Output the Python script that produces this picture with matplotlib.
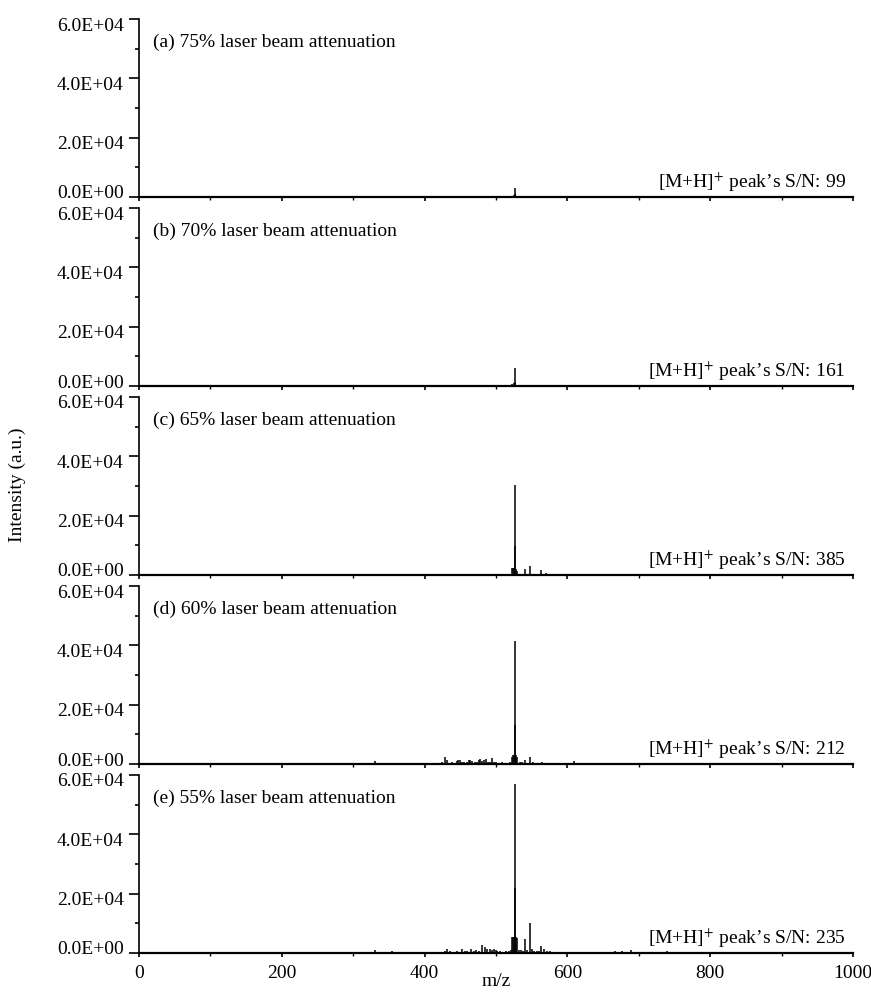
import matplotlib
matplotlib.use('Agg')
import matplotlib.pyplot as plt
from matplotlib.ticker import MultipleLocator, FuncFormatter
from matplotlib.transforms import ScaledTranslation

plt.rcParams['font.family'] = ['Liberation Serif', 'DejaVu Serif']
plt.rcParams['mathtext.fontset'] = 'stix'

# panel titles and S/N values
titles = ['(a) 75% laser beam attenuation', '(b) 70% laser beam attenuation',
          '(c) 65% laser beam attenuation', '(d) 60% laser beam attenuation',
          '(e) 55% laser beam attenuation']
snr = [99, 161, 385, 212, 235]
yticks = [0, 20000, 40000, 60000]

# peak lists (m/z, intensity)
mz_a = [332, 480, 524, 525, 526, 527, 528, 535, 548, 600, 690]
int_a = [80, 100, 500, 700, 3000, 900, 300, 250, 200, 100, 80]

mz_b = [332, 480, 494, 523, 525, 526, 527, 529, 541, 547, 564, 610]
int_b = [100, 150, 150, 800, 1000, 6000, 1500, 400, 300, 400, 200, 100]

mz_c = [330, 420, 435, 455, 465, 478, 484, 490, 510, 523, 524, 525, 526, 527,
        528, 529, 541, 547, 563, 570, 600, 690, 740, 800]
int_c = [200, 300, 200, 300, 250, 500, 400, 350, 300, 2400, 2400, 2400, 30400, 9800,
         2000, 1500, 2100, 3000, 1600, 600, 200, 300, 200, 200]

mz_d = [280, 331, 355, 418, 422, 425, 429, 432, 438, 441, 445, 447, 449, 452, 455,
        459, 462, 464, 467, 470, 473, 476, 478, 481, 483, 486, 489, 492, 494, 497,
        500, 505, 509, 512, 516, 520, 522, 524, 525, 526, 527, 528, 529, 533, 536,
        541, 547, 552, 556, 560, 564, 570, 576, 582, 590, 598, 609, 618, 630, 640,
        650, 658, 665, 672, 680, 690, 698, 705, 712, 720, 728, 735, 742, 750, 760,
        770, 780, 790, 800, 812, 825, 838, 850, 862, 875, 888, 900, 912, 925, 938,
        950, 962, 975, 988]
int_d = [300, 1100, 400, 300, 500, 600, 2400, 1200, 600, 500, 900, 1500, 1400, 800, 700,
         600, 1200, 1400, 900, 700, 600, 1500, 1600, 900, 1400, 1800, 800, 600, 2000, 700,
         600, 500, 600, 400, 500, 600, 2200, 3000, 3000, 41400, 13000, 3000, 2500, 700, 600,
         1300, 2300, 600, 500, 400, 600, 400, 300, 400, 300, 350, 1000, 400, 400, 300,
         300, 450, 350, 300, 300, 400, 350, 300, 400, 300, 350, 300, 350, 250, 300,
         300, 250, 300, 250, 300, 250, 300, 200, 250, 250, 200, 250, 200, 200, 200,
         150, 200, 150, 150]

mz_e = [190, 331, 355, 420, 424, 428, 432, 436, 440, 445, 452, 456, 460, 465, 469,
        472, 476, 480, 484, 488, 492, 495, 497, 500, 502, 506, 510, 514, 518, 521,
        523, 524, 525, 526, 527, 528, 529, 532, 535, 538, 541, 544, 547, 550, 553,
        557, 560, 563, 567, 572, 576, 582, 590, 600, 610, 620, 630, 640, 650, 660,
        666, 670, 676, 682, 689, 695, 702, 710, 718, 726, 734, 740, 748, 756, 764,
        772, 780, 790, 800, 810, 820, 830, 840, 850, 860, 870, 880, 890, 900, 912,
        925, 938, 950, 962, 975, 988]
int_e = [200, 1000, 600, 300, 500, 700, 1200, 600, 500, 800, 1500, 800, 600, 1200, 700,
         1000, 800, 2700, 2100, 1500, 1500, 900, 1400, 1100, 800, 700, 500, 600, 700, 900,
         5500, 5500, 5500, 57000, 22000, 5500, 5000, 1000, 900, 700, 4700, 900, 10100, 1200, 700,
         800, 600, 2500, 1500, 700, 600, 500, 500, 400, 500, 400, 400, 350, 400, 500,
         600, 500, 600, 400, 900, 400, 350, 400, 350, 400, 350, 700, 400, 350, 400,
         350, 300, 350, 300, 350, 300, 300, 250, 300, 250, 300, 250, 250, 250, 200,
         250, 200, 200, 200, 200, 150]

mzs = [mz_a, mz_b, mz_c, mz_d, mz_e]
ints = [int_a, int_b, int_c, int_d, int_e]


def sci(v, pos):
    return '%.1E' % v


fig = plt.figure(figsize=(8.71, 9.94), dpi=100)
left = 139 / 871
width = (853 - 139) / 871
panel_h = 178 / 994

axes = []
for i in range(5):
    bottom_px = 197 + 189 * i
    ax = fig.add_axes([left, 1 - bottom_px / 994, width, panel_h])
    axes.append(ax)

    ax.vlines(mzs[i], 0, ints[i], color='black', lw=1.1)
    ax.set_xlim(0, 1000)
    ax.set_ylim(0, 60000)

    ax.spines['top'].set_visible(False)
    ax.spines['right'].set_visible(False)
    ax.spines['left'].set_linewidth(1.2)
    ax.spines['bottom'].set_linewidth(1.6)

    ax.set_yticks(yticks)
    ax.yaxis.set_minor_locator(MultipleLocator(10000))
    ax.yaxis.set_major_formatter(FuncFormatter(sci))
    ax.tick_params(axis='y', which='major', direction='out', length=7, width=1.2, labelsize=14, pad=4)
    ax.tick_params(axis='y', which='minor', direction='out', length=3, width=1.2)

    ax.xaxis.set_major_locator(MultipleLocator(200))
    ax.xaxis.set_minor_locator(MultipleLocator(100))
    ax.tick_params(axis='x', which='major', direction='out', length=3, width=1.2, labelsize=14, pad=6)
    ax.tick_params(axis='x', which='minor', direction='out', length=2, width=1.0)
    if i < 4:
        ax.tick_params(axis='x', which='both', labelbottom=False)

    # y tick labels sit slightly inside the panel, as in the original
    for k, tick in enumerate(ax.yaxis.get_major_ticks()):
        dy = 3.6 / 72 if k == 0 else -3.6 / 72
        tick.label1.set_transform(tick.label1.get_transform() + ScaledTranslation(0, dy, fig.dpi_scale_trans))

    ax.text(0.02, 0.87, titles[i], transform=ax.transAxes, fontsize=14, ha='left', va='center')
    ax.text(0.99, 0.085, r"[M+H]$^{\mathrm{+}}$ peak’s S/N: %d" % snr[i], transform=ax.transAxes,
            fontsize=14, ha='right', va='center')

axes[-1].set_xlabel('m/z', fontsize=14, labelpad=-7)
fig.text(0.02, 0.512, 'Intensity (a.u.)', rotation=90, ha='center', va='center', fontsize=14)

fig.savefig('out.png', dpi=100)
